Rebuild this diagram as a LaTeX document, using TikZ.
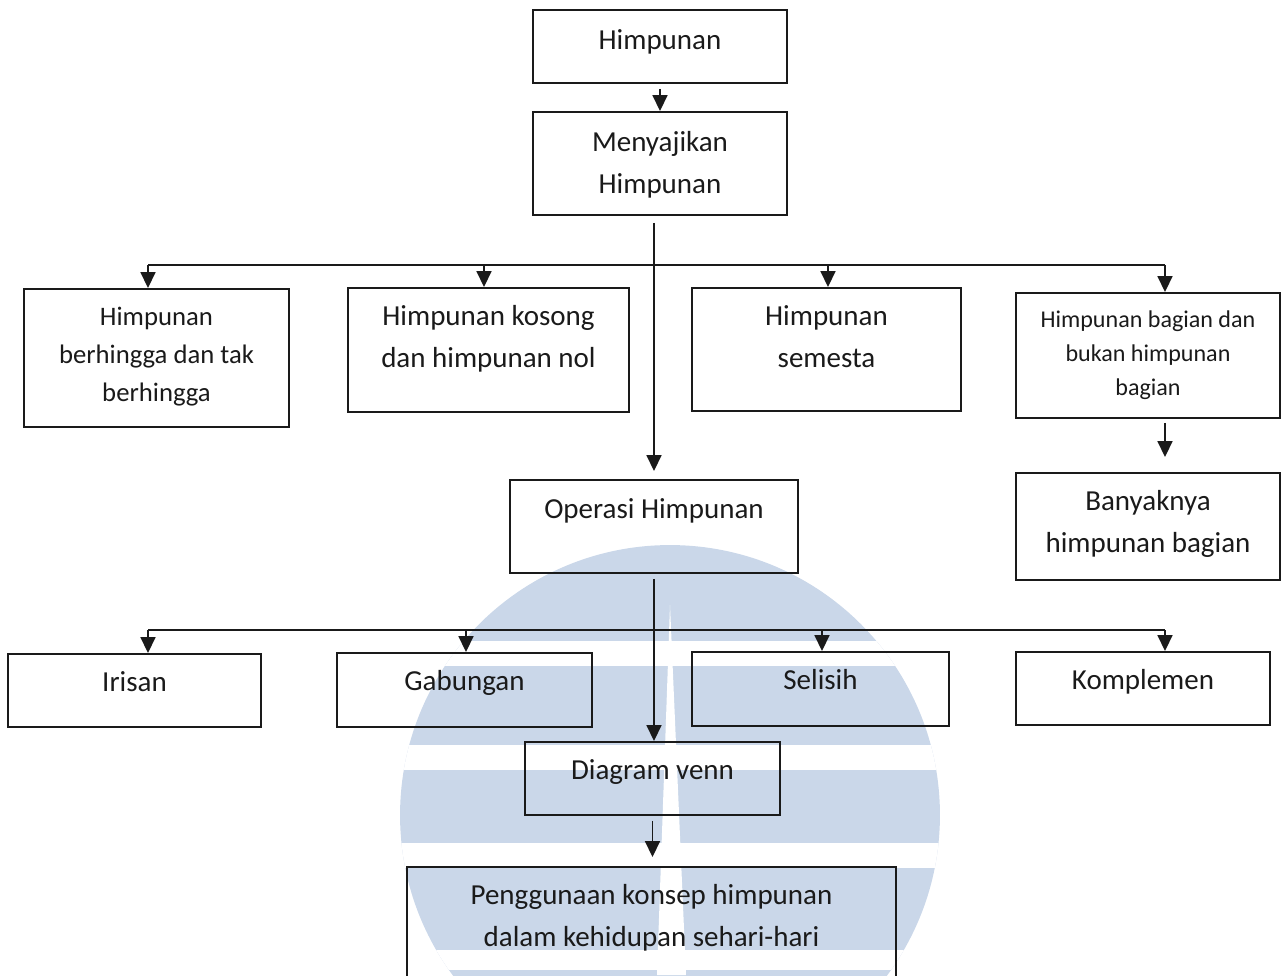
\documentclass[tikz,border=0pt]{standalone}
\usepackage{fontspec}
\setmainfont{Carlito}
\usetikzlibrary{arrows.meta,calc}
\definecolor{cInk}{HTML}{1A1A1A}
\definecolor{cMark}{HTML}{CAD7E9}
\tikzset{
  box/.style   = {draw=cInk, line width=1.1pt, inner sep=0pt, align=center,
                  text=cInk, font=\fontsize{16.5}{23.9}\selectfont,
                  text height=0.42cm, text depth=0.4cm},
  lift/.style  = {text depth=#1},
  tall/.style  = {text height=#1},
  mid/.style   = {font=\fontsize{15.2}{21.6}\selectfont},
  small/.style = {font=\fontsize{13.7}{19.3}\selectfont},
  wh/.style args = {#1x#2}{minimum width=#1*0.02cm, minimum height=#2*0.02cm},
  link/.style  = {cInk, line width=1pt},
  arr/.style   = {link, -{Triangle[width=0.3cm,length=0.32cm]}},
}

\begin{document}
\begin{tikzpicture}[x=0.02cm, y=-0.02cm]
  \useasboundingbox (0,0) rectangle (1282,975);
  % faint logo behind the chart
  \begin{scope}
    \clip (670,815) circle [radius=5.4cm];
    \fill[cMark] (390,540) rectangle (950,1090);
    \fill[white] (390,641) rectangle (950,666);
    \fill[white] (390,745) rectangle (950,770);
    \fill[white] (390,843) rectangle (950,868);
    \fill[white] (390,950) rectangle (950,970);
    \fill[white] (670,605) -- (686,975) -- (657,975) -- cycle;
  \end{scope}

  \node[box, wh=254x73, lift=0.32cm] (himp) at (660,46.5) {Himpunan};
  \node[box, wh=254x103, tall=1.26cm, lift=0.074cm] (saji) at (660,163.5) {Menyajikan\\Himpunan};

  \node[box, mid, wh=265x138, tall=1.94cm, lift=0.2cm] (hingga) at (156.5,358) {Himpunan\\berhingga dan tak\\berhingga};
  \node[box, wh=281x124, tall=1.26cm, lift=0.58cm] (kosong) at (488.5,350) {Himpunan kosong\\dan himpunan nol};
  \node[box, wh=269x123, tall=1.26cm, lift=0.56cm] (semesta) at (826.5,349.5) {Himpunan\\semesta};
  \node[box, small, wh=264x125, tall=1.78cm, lift=0.2cm] (bagian) at (1148,355.5) {Himpunan bagian dan\\bukan himpunan\\bagian};
  \node[box, wh=264x107, tall=1.26cm, lift=0.24cm] (banyak) at (1148,526.5) {Banyaknya\\himpunan bagian};

  \node[box, wh=288x93, lift=0.76cm] (operasi) at (654,526.5) {Operasi Himpunan};

  \node[box, wh=253x73] (irisan) at (134.5,690.5) {Irisan};
  \node[box, wh=255x74] (gabung) at (464.5,690) {Gabungan};
  \node[box, wh=257x74] (selisih) at (820.5,689) {Selisih};
  \node[box, wh=254x73] (komplemen) at (1143,688.5) {Komplemen};

  \node[box, wh=255x73] (venn) at (652.5,778.5) {Diagram venn};
  \node[box, wh=489x140, tall=1.26cm, lift=0.9cm] (guna) at (651.5,937) {Penggunaan konsep himpunan\\dalam kehidupan sehari-hari};

  \draw[arr, shorten <=0.1cm] (himp.south) -- (himp.south |- saji.north);
  \draw[arr, shorten <=0.14cm, shorten >=0.16cm] (saji.south -| operasi.north) -- (operasi.north);

  % first row of branches
  \foreach \x/\n in {148/hingga,484/kosong,828/semesta,1165/bagian}{
    \coordinate (up-\n) at (\x,265);
    \draw[arr] (up-\n) -- (up-\n |- \n.north);
  }
  \draw[link] (up-hingga) -- (up-bagian);
  \draw[arr, shorten <=0.08cm, shorten >=0.3cm] (up-bagian |- bagian.south) -- (up-bagian |- banyak.north);

  % second row of branches
  \foreach \x/\n in {148/irisan,466/gabung,822/selisih,1165/komplemen}{
    \coordinate (dn-\n) at (\x,630);
    \draw[arr] (dn-\n) -- (dn-\n |- \n.north);
  }
  \draw[link] (dn-irisan) -- (dn-komplemen);

  \draw[arr, shorten <=0.1cm] (operasi.south) -- (operasi.south |- venn.north);
  \draw[arr, shorten <=0.1cm, shorten >=0.18cm] (venn.south) -- (venn.south |- guna.north);
\end{tikzpicture}
\end{document}
